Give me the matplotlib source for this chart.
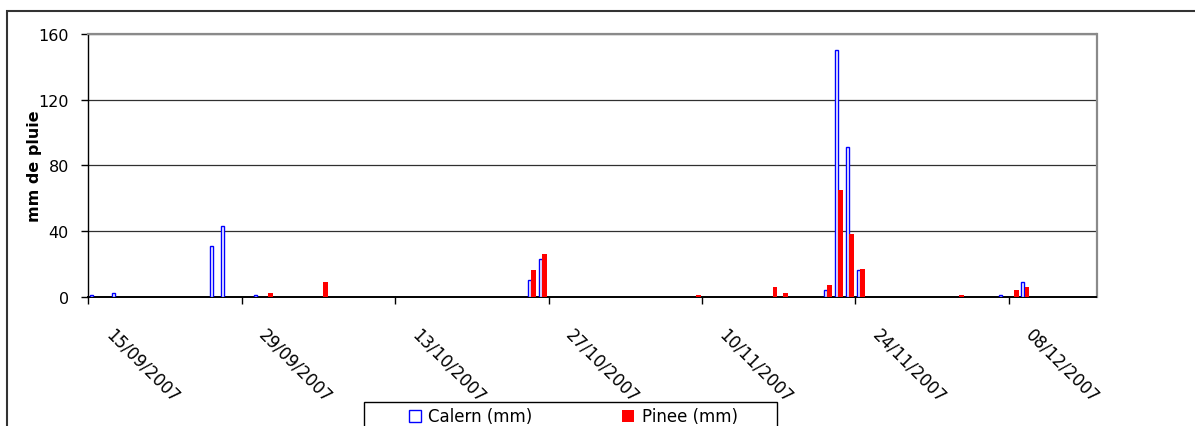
import datetime as dt

import matplotlib
matplotlib.use("Agg")
import matplotlib.pyplot as plt
import matplotlib.dates as mdates
from matplotlib.patches import Rectangle
from matplotlib.transforms import ScaledTranslation

# Daily rainfall (mm), listed only for the days where a station recorded rain
rain_days = ["15/09/2007", "17/09/2007", "26/09/2007", "27/09/2007", "30/09/2007",
             "01/10/2007", "06/10/2007", "25/10/2007", "26/10/2007", "09/11/2007",
             "16/11/2007", "17/11/2007", "21/11/2007", "22/11/2007", "23/11/2007",
             "24/11/2007", "03/12/2007", "07/12/2007", "08/12/2007", "09/12/2007"]
calern_mm = [1, 2, 31, 43, 1, 0, 0, 10, 23, 0, 0, 0, 4, 150, 91, 16, 0, 1, 0, 9]
pinee_mm = [0, 0, 0, 0, 0, 2, 9, 16, 26, 1, 6, 2, 7, 65, 38, 17, 1, 0, 4, 6]

series_labels = ["Calern (mm)", "Pinee (mm)"]
y_label = "mm de pluie"
period_start = "15/09/2007"
period_end = "16/12/2007"
tick_step_days = 14
y_ticks = [0, 40, 80, 120, 160]

FMT = "%d/%m/%Y"
W, H = 1195, 427


def to_num(s):
    return mdates.date2num(dt.datetime.strptime(s, FMT))


day_num = [to_num(s) for s in rain_days]
x0, x1 = to_num(period_start), to_num(period_end)

fig = plt.figure(figsize=(W / 100, H / 100), dpi=100)
left, right, top, bottom = 88.3, 1096.5, 35.0, 297.7
ax = fig.add_axes([left / W, 1 - bottom / H, (right - left) / W, (bottom - top) / H])

# each day is a one-day slot; Calern bar on the left half, Pinee on the right
cal_x = [d + 0.27 for d, v in zip(day_num, calern_mm) if v > 0]
cal_v = [v for v in calern_mm if v > 0]
pin_x = [d + 0.66 for d, v in zip(day_num, pinee_mm) if v > 0]
pin_v = [v for v in pinee_mm if v > 0]

b_cal = ax.bar(cal_x, cal_v, width=0.30, facecolor="white", edgecolor="#0000FF",
               linewidth=1.0, zorder=3, label=series_labels[0])
b_pin = ax.bar(pin_x, pin_v, width=0.45, facecolor="#FF0000", edgecolor="none",
               linewidth=0, zorder=4, label=series_labels[1])

ax.set_xlim(x0, x1)
ax.set_ylim(y_ticks[0], y_ticks[-1])
ax.set_yticks(y_ticks)
ax.set_xticks([x0 + k * tick_step_days for k in range(int((x1 - x0) // tick_step_days) + 1)])
ax.xaxis.set_major_formatter(mdates.DateFormatter(FMT))

ax.yaxis.grid(True, color="#303030", linewidth=0.9)
ax.set_axisbelow(True)

for side in ("top", "right"):
    ax.spines[side].set_color("#8a8a8a")
    ax.spines[side].set_linewidth(1.6)
ax.spines["left"].set_color("black")
ax.spines["left"].set_linewidth(1.0)
ax.spines["bottom"].set_color("black")
ax.spines["bottom"].set_linewidth(1.4)

ax.tick_params(axis="y", direction="out", length=5, width=1, pad=9, labelsize=11.5,
               colors="black")
ax.tick_params(axis="x", direction="out", length=5, width=1, pad=20, labelsize=12,
               colors="black")

shift = ScaledTranslation(0.20, 0.0, fig.dpi_scale_trans)
for lab in ax.get_xticklabels():
    lab.set_rotation(-45)
    lab.set_rotation_mode("anchor")
    lab.set_ha("left")
    lab.set_va("center")
    lab.set_transform(lab.get_transform() + shift)

ax.set_ylabel(y_label, fontsize=11.5, fontweight="bold")
ax.yaxis.set_label_coords((42 - left) / (right - left), 0.5)

# legend row below the axis, inside a framed box
fig.legend(handles=[b_cal, b_pin], labels=series_labels, ncol=2, loc="upper left",
           bbox_to_anchor=(409 / W, 1 - 408.5 / H), bbox_transform=fig.transFigure,
           frameon=False, borderpad=0, borderaxespad=0, handlelength=0.7,
           handleheight=0.7, handletextpad=0.45, columnspacing=5.4, fontsize=12)
fig.add_artist(Rectangle((364 / W, -0.05), (777 - 364) / W, (H - 403) / H + 0.05,
                         transform=fig.transFigure, fill=False, edgecolor="black",
                         linewidth=1.0, clip_on=False))

# chart area border
fig.add_artist(Rectangle((7 / W, -0.1), 1.2, 1 - 12 / H + 0.1,
                         transform=fig.transFigure, fill=False, edgecolor="#333333",
                         linewidth=1.5, clip_on=False))

fig.savefig("out.png", dpi=100)
